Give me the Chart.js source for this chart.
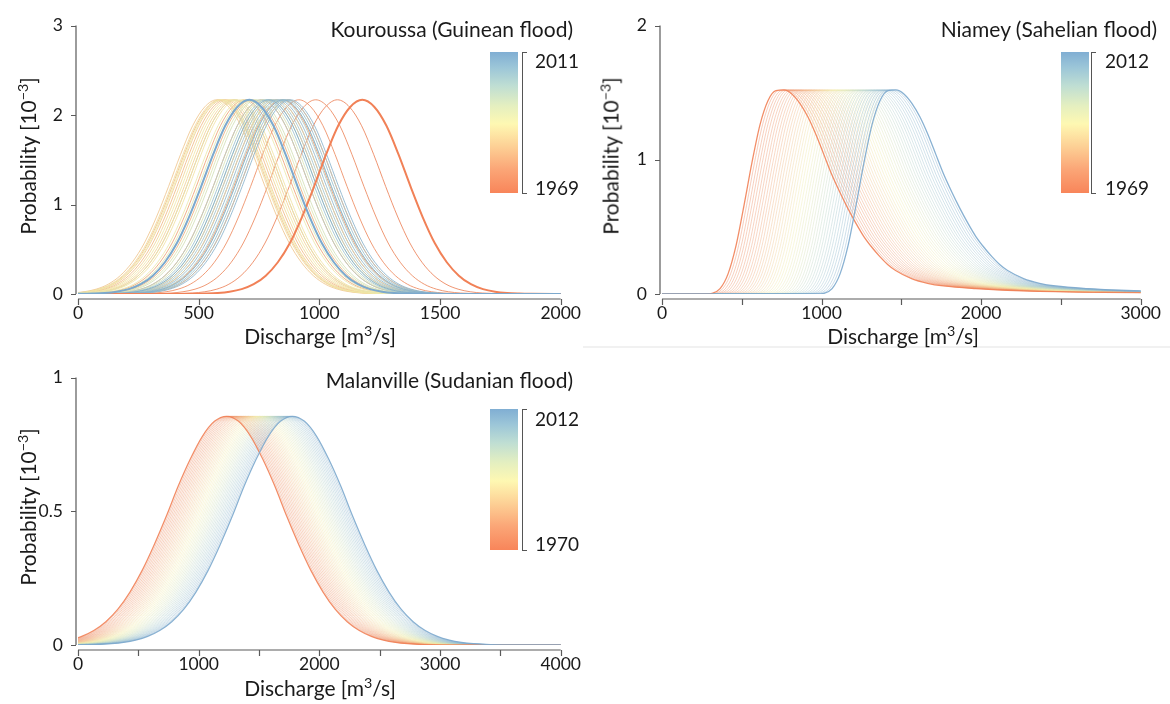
<!DOCTYPE html>
<html>
<head>
<meta charset="utf-8">
<script src="https://cdn.jsdelivr.net/npm/chart.js@4/dist/chart.umd.min.js"></script>
<style>
  body { margin: 0; width: 1170px; height: 704px; position: relative; overflow: hidden; background: #fff;
         font-family: Lato, "Open Sans", sans-serif; color: #1a1a1a; }
  canvas { position: absolute; }
  .t { position: absolute; white-space: nowrap; line-height: 1; }
  .title { font-size: 21px; transform: translate(-100%, -50%); }
  .xt { font-size: 21px; transform: translate(-50%, -50%); }
  .yt { font-size: 21px; transform: translate(-50%, -50%) rotate(-90deg); }
  .cb-lab { font-size: 19px; transform: translate(0, -50%); }
  sup { font-size: 0.68em; line-height: 0; vertical-align: 0.55em; }
  .cbar { position: absolute; width: 28px; height: 141px; }
  .brk { position: absolute; width: 4px; height: 140px; border: 1px solid #555; border-right: none; }
  .shade { position: absolute; left: 583px; top: 346px; width: 587px; height: 2px; background: #f1f1f1; }
</style>
</head>
<body>
<canvas id="c-kou" width="590" height="350" style="left:0;top:0"></canvas>
<canvas id="c-nia" width="585" height="350" style="left:585px;top:0"></canvas>
<canvas id="c-mal" width="590" height="352" style="left:0;top:352px"></canvas>
<div class="shade"></div>

<div class="t title" style="left:573px;top:28px">Kouroussa (Guinean flood)</div>
<div class="t title" style="left:1157px;top:28px">Niamey (Sahelian flood)</div>
<div class="t title" style="left:573px;top:379px">Malanville (Sudanian flood)</div>

<div class="t yt" style="left:27px;top:156px">Probability [10<sup>−3</sup>]</div>
<div class="t yt" style="left:610px;top:156px">Probability [10<sup>−3</sup>]</div>
<div class="t yt" style="left:27px;top:507px">Probability [10<sup>−3</sup>]</div>

<div class="t xt" style="left:320px;top:335px">Discharge [m<sup>3</sup>/s]</div>
<div class="t xt" style="left:903px;top:335px">Discharge [m<sup>3</sup>/s]</div>
<div class="t xt" style="left:320px;top:687px">Discharge [m<sup>3</sup>/s]</div>

<div class="cbar" id="cb-kou" style="left:490px;top:52px"></div>
<div class="brk" style="left:522px;top:52px"></div>
<div class="t cb-lab" style="left:535px;top:60px">2011</div>
<div class="t cb-lab" style="left:535px;top:187px">1969</div>

<div class="cbar" id="cb-nia" style="left:1061px;top:52px"></div>
<div class="brk" style="left:1091px;top:52px"></div>
<div class="t cb-lab" style="left:1105px;top:60px">2012</div>
<div class="t cb-lab" style="left:1105px;top:187px">1969</div>

<div class="cbar" id="cb-mal" style="left:490px;top:409px"></div>
<div class="brk" style="left:522px;top:409px"></div>
<div class="t cb-lab" style="left:535px;top:418px">2012</div>
<div class="t cb-lab" style="left:535px;top:543px">1970</div>

<script>
// Flood-peak probability curves, one per year, coloured from first year (orange)
// through yellow to last year (blue). Values are in 10^-3, discharge in m3/s.

const AXIS = "#5a5a5a";
const TICK_TXT = "#1a1a1a";

// colour ramp (bottom = first year, top = last year)
const CMAP_POS = [0, 0.17, 0.33, 0.49, 0.62, 0.76, 0.89, 1];
const CMAP_HEX = ["#f8855a", "#fba677", "#fdd095", "#fef8b2", "#e4efc0", "#bfded3", "#9cc6d8", "#80aed3"];

// --- Kouroussa: curve shape (offset from the peak, value) and the peak of each year
const KOU_OFFSETS = [-2500, -800, -700, -650, -600, -550, -500, -450, -400, -350, -300, -250, -200, -150, -100, -50, 0,
                     50, 100, 150, 200, 250, 300, 350, 400, 450, 500, 550, 600, 650, 700, 800, 2500];
const KOU_SHAPE = [0, 0, 0.002, 0.005, 0.011, 0.025, 0.054, 0.109, 0.205, 0.355, 0.57, 0.86, 1.2, 1.56, 1.88, 2.09, 2.17,
                   2.09, 1.88, 1.56, 1.2, 0.86, 0.57, 0.355, 0.205, 0.109, 0.054, 0.025, 0.011, 0.005, 0.002, 0, 0];
const KOU_YEARS = [1969, 2011];
const KOU_PEAKS = [1178, 1075, 985, 915, 870, 820, 845, 760, 690, 800, 720, 650, 610, 590, 575, 600, 640, 620, 585, 660,
                   630, 595, 680, 650, 700, 730, 770, 740, 790, 820, 850, 800, 760, 840, 870, 810, 780, 860, 830, 880,
                   850, 790, 710];

// --- Niamey: skewed curve shape and yearly peaks (1969 ... 2012)
const NIA_OFFSETS = [-1600, -500, -450, -400, -350, -300, -250, -200, -150, -100, -50, 0, 50, 100, 150, 200, 250, 300,
                     350, 400, 450, 500, 550, 600, 650, 700, 800, 900, 1000, 1200, 1400, 1600, 2000, 2400];
const NIA_SHAPE = [0, 0, 0.005, 0.04, 0.15, 0.36, 0.66, 0.98, 1.26, 1.44, 1.515, 1.52, 1.49, 1.42, 1.32, 1.19, 1.04, 0.89,
                   0.76, 0.64, 0.53, 0.43, 0.35, 0.28, 0.22, 0.175, 0.115, 0.08, 0.06, 0.04, 0.028, 0.02, 0.013, 0.009];
const NIA_YEARS = [1969, 2012];
const NIA_PEAKS = [764, 780, 797, 813, 829, 846, 862, 878, 895, 911, 927, 944, 960, 976, 993, 1009, 1025, 1042, 1058,
                   1074, 1091, 1107, 1123, 1140, 1156, 1172, 1189, 1205, 1221, 1238, 1254, 1270, 1287, 1303, 1319, 1336,
                   1352, 1368, 1385, 1401, 1417, 1434, 1450, 1466];

// --- Malanville: symmetric curve shape and yearly peaks (1970 ... 2012)
const MAL_OFFSETS = [-3000, -2200, -1800, -1600, -1500, -1400, -1300, -1200, -1100, -1000, -900, -800, -700, -600, -500,
                     -400, -300, -200, -100, 0, 100, 200, 300, 400, 500, 600, 700, 800, 900, 1000, 1100, 1200, 1300,
                     1400, 1500, 1600, 1800, 2200, 3000];
const MAL_SHAPE = [0, 0, 0.0005, 0.0023, 0.0048, 0.0095, 0.018, 0.032, 0.054, 0.087, 0.134, 0.198, 0.278, 0.374, 0.48,
                   0.594, 0.695, 0.78, 0.836, 0.855, 0.836, 0.78, 0.695, 0.594, 0.48, 0.374, 0.278, 0.198, 0.134, 0.087,
                   0.054, 0.032, 0.018, 0.0095, 0.0048, 0.0023, 0.0005, 0, 0];
const MAL_YEARS = [1970, 2012];
const MAL_PEAKS = [1231, 1244, 1257, 1270, 1283, 1296, 1309, 1322, 1335, 1348, 1361, 1374, 1387, 1400, 1413, 1426, 1439,
                   1452, 1465, 1478, 1491, 1504, 1517, 1530, 1543, 1556, 1569, 1582, 1595, 1608, 1621, 1634, 1647, 1660,
                   1673, 1686, 1699, 1712, 1725, 1738, 1751, 1764, 1777];

function hexRgb(h) {
  return [1, 3, 5].map((i) => parseInt(h.slice(i, i + 2), 16));
}

function cmap(t, k = 1, a = 1) {
  let i = 0;
  while (i < CMAP_POS.length - 2 && t > CMAP_POS[i + 1]) i++;
  const f = (t - CMAP_POS[i]) / (CMAP_POS[i + 1] - CMAP_POS[i]);
  const c0 = hexRgb(CMAP_HEX[i]), c1 = hexRgb(CMAP_HEX[i + 1]);
  const c = c0.map((v, j) => Math.round((v + (c1[j] - v) * f) * k));
  return `rgba(${c[0]},${c[1]},${c[2]},${a})`;
}

function gradientCss() {
  const stops = CMAP_POS.map((p, i) => `${CMAP_HEX[i]} ${Math.round(p * 100)}%`);
  return `linear-gradient(to top, ${stops.join(", ")})`;
}

function curve(peak, offsets, shape) {
  return offsets.map((o, i) => ({ x: peak + o, y: shape[i] }));
}

// Thin lines for every year, heavier lines for first and last year.
function yearSets(peaks, offsets, shape, thin, thick, k, alpha, edgeAlpha) {
  const n = peaks.length;
  return peaks.map((p, i) => {
    const t = i / (n - 1);
    const edge = i === 0 || i === n - 1;
    return {
      data: curve(p, offsets, shape),
      borderColor: cmap(t, edge ? 0.97 : k, edge ? edgeAlpha : alpha),
      borderWidth: edge ? thick : thin,
      order: edge ? -i - 1 : n - i,
    };
  });
}

// Axis lines set off from the plot area, with outward ticks.
const offsetAxes = {
  id: "offsetAxes",
  afterDraw(chart) {
    const { ctx, scales: { x, y } } = chart;
    const yb = y.getPixelForValue(y.min) + 5;
    const xl = x.getPixelForValue(x.min) - 2;
    ctx.save();
    ctx.strokeStyle = AXIS;
    ctx.lineWidth = 1.2;
    ctx.beginPath();
    ctx.moveTo(x.getPixelForValue(x.min), yb);
    ctx.lineTo(x.getPixelForValue(x.max), yb);
    x.ticks.forEach((t) => {
      const px = Math.round(x.getPixelForValue(t.value)) + 0.5;
      ctx.moveTo(px, yb);
      ctx.lineTo(px, yb + 6);
    });
    ctx.moveTo(xl, y.getPixelForValue(y.min));
    ctx.lineTo(xl, y.getPixelForValue(y.max));
    y.ticks.forEach((t) => {
      const py = Math.round(y.getPixelForValue(t.value)) + 0.5;
      ctx.moveTo(xl, py);
      ctx.lineTo(xl - 5, py);
    });
    ctx.stroke();
    ctx.restore();
  },
};

function lineChart(id, datasets, o) {
  const font = { family: "Lato, 'Open Sans', sans-serif", size: 17.5 };
  return new Chart(document.getElementById(id), {
    type: "line",
    data: { datasets },
    options: {
      responsive: false,
      animation: false,
      events: [],
      layout: { padding: o.pad },
      elements: { point: { radius: 0 }, line: { cubicInterpolationMode: "monotone", borderCapStyle: "round" } },
      plugins: { legend: { display: false }, tooltip: { enabled: false } },
      scales: {
        x: {
          type: "linear", min: 0, max: o.xMax,
          afterFit: (s) => { s.height = o.xH; },
          grid: { display: false, drawTicks: false },
          border: { display: false },
          ticks: {
            stepSize: 500, autoSkip: false, maxRotation: 0, padding: 9, font, color: TICK_TXT,
            callback: (v) => (v % o.xLab === 0 ? String(v) : ""),
          },
        },
        y: {
          min: 0, max: o.yMax,
          afterFit: (s) => { s.width = o.yW; },
          grid: { display: false, drawTicks: false },
          border: { display: false },
          ticks: { stepSize: o.yStep, padding: 15, font, color: TICK_TXT, callback: (v) => String(v) },
        },
      },
    },
    plugins: [offsetAxes],
  });
}

lineChart("c-kou", yearSets(KOU_PEAKS, KOU_OFFSETS, KOU_SHAPE, 1, 2, 0.95, 0.85, 1),
  { xMax: 2000, xLab: 500, yMax: 3, yStep: 1, yW: 78, xH: 56, pad: { left: 0, right: 28, top: 17.5, bottom: 0 } });
lineChart("c-nia", yearSets(NIA_PEAKS, NIA_OFFSETS, NIA_SHAPE, 0.5, 1.3, 0.95, 0.8, 0.9),
  { xMax: 3000, xLab: 1000, yMax: 2, yStep: 1, yW: 77, xH: 56, pad: { left: 0, right: 26, top: 17.5, bottom: 0 } });
lineChart("c-mal", yearSets(MAL_PEAKS, MAL_OFFSETS, MAL_SHAPE, 0.5, 1.3, 0.95, 0.8, 0.9),
  { xMax: 4000, xLab: 1000, yMax: 1, yStep: 0.5, yW: 78, xH: 59, pad: { left: 0, right: 28, top: 17, bottom: 0 } });

["cb-kou", "cb-nia", "cb-mal"].forEach((id) => {
  document.getElementById(id).style.background = gradientCss();
});
</script>
</body>
</html>
